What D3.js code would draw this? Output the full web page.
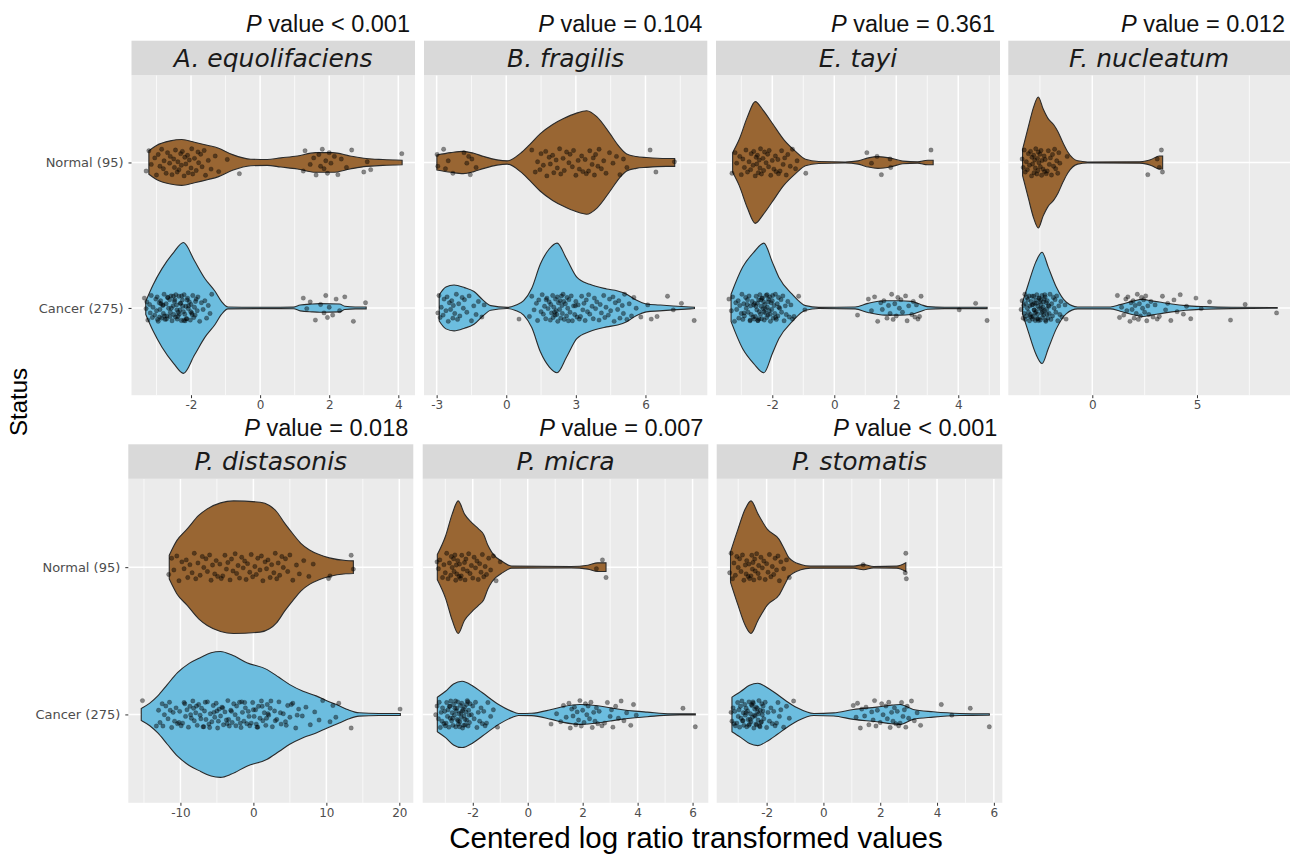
<!DOCTYPE html>
<html><head><meta charset="utf-8">
<script src="https://cdn.jsdelivr.net/npm/d3@7"></script>
<style>body{margin:0;background:#fff} svg{display:block;font-family:"Liberation Sans",Arial,Helvetica,sans-serif}</style>
</head><body>
<svg id="chart" width="1296" height="861"></svg>
<script>
// ---------------- data ----------------
const groups = ["Normal (95)", "Cancer (275)"];
const species = ["A. equolifaciens","B. fragilis","E. tayi","F. nucleatum","P. distasonis","P. micra","P. stomatis"];
const pLabels = ["< 0.001","= 0.104","= 0.361","= 0.012","= 0.018","= 0.007","< 0.001"];
const xTicks = [[-2,0,2,4],[-3,0,3,6],[-2,0,2,4],[0,5],[-10,0,10,20],[-2,0,2,4,6],[-2,0,2,4,6]];

// violin outlines: [value, relative density (1 = widest violin)]
const normalOutline = [
  [[-3.22,0.18],[-3.0,0.26],[-2.6,0.33],[-2.27,0.35],[-1.9,0.31],[-1.5,0.26],[-1.22,0.22],[-0.8,0.12],[-0.27,0.05],[0.2,0.045],[0.6,0.07],[1.08,0.1],[1.6,0.15],[2.1,0.15],[2.6,0.1],[3.07,0.06],[3.55,0.045],[4.11,0.035]],
  [[-2.99,0.115],[-2.39,0.15],[-1.85,0.17],[-1.4,0.14],[-0.96,0.09],[-0.4,0.04],[0.04,0.025],[0.61,0.14],[1.0,0.27],[1.47,0.44],[2.0,0.58],[2.47,0.67],[3.0,0.75],[3.47,0.79],[3.9,0.7],[4.47,0.44],[4.85,0.25],[5.19,0.13],[5.6,0.09],[6.04,0.075],[6.9,0.06],[7.26,0.06]],
  [[-3.28,0.15],[-3.07,0.35],[-2.8,0.7],[-2.55,0.93],[-2.3,0.8],[-2.0,0.6],[-1.63,0.35],[-1.25,0.17],[-0.93,0.05],[-0.5,0.015],[0.35,0.008],[0.77,0.025],[1.1,0.07],[1.41,0.09],[1.84,0.065],[2.21,0.02],[2.69,0.01],[3.01,0.035],[3.19,0.035]],
  [[-3.33,0.2],[-3.05,0.55],[-2.8,0.85],[-2.58,1.0],[-2.35,0.82],[-2.11,0.67],[-1.85,0.58],[-1.64,0.47],[-1.4,0.3],[-1.17,0.16],[-0.7,0.025],[-0.23,0.008],[2.26,0.01],[2.6,0.025],[2.81,0.045],[3.2,0.1],[3.36,0.1]],
  [[-11.53,0.18],[-10.5,0.4],[-9.04,0.58],[-7.5,0.78],[-6.32,0.88],[-4.5,0.97],[-2.71,1.0],[0.91,0.98],[2.2,0.93],[3.17,0.84],[4.3,0.66],[5.43,0.5],[6.5,0.36],[7.69,0.26],[9.0,0.19],[10.4,0.14],[12.67,0.1],[13.7,0.095]],
  [[-3.29,0.19],[-2.99,0.47],[-2.75,0.8],[-2.53,1.0],[-2.3,0.8],[-2.03,0.67],[-1.8,0.58],[-1.6,0.49],[-1.45,0.33],[-1.3,0.22],[-0.88,0.075],[-0.58,0.015],[1.58,0.01],[2.19,0.03],[2.55,0.065],[2.85,0.065]],
  [[-3.27,0.23],[-3.01,0.57],[-2.75,0.88],[-2.55,1.0],[-2.3,0.8],[-1.97,0.57],[-1.56,0.42],[-1.35,0.25],[-1.21,0.14],[-0.8,0.04],[-0.45,0.015],[1.06,0.015],[1.41,0.038],[1.76,0.01],[2.58,0.015],[2.9,0.065]]
];
const cancerOutline = [
  [[-3.31,0.1],[-3.1,0.35],[-2.84,0.6],[-2.5,0.85],[-2.22,1.0],[-1.9,0.72],[-1.6,0.45],[-1.3,0.25],[-1.12,0.1],[-0.93,0.015],[0.0,0.01],[0.97,0.012],[1.16,0.045],[1.5,0.06],[1.73,0.065],[2.3,0.06],[2.45,0.025],[2.75,0.015],[3.07,0.015]],
  [[-2.89,0.2],[-2.6,0.32],[-2.25,0.35],[-1.8,0.31],[-1.39,0.25],[-1.0,0.12],[-0.67,0.035],[0.04,0.008],[0.4,0.04],[0.75,0.11],[1.1,0.3],[1.47,0.67],[1.85,0.9],[2.19,0.99],[2.6,0.75],[3.04,0.47],[3.6,0.36],[4.33,0.29],[4.8,0.26],[5.19,0.21],[5.6,0.12],[6.04,0.06],[6.6,0.045],[7.19,0.03],[8.11,0.01]],
  [[-3.33,0.21],[-2.96,0.62],[-2.6,0.85],[-2.27,0.99],[-2.0,0.7],[-1.79,0.47],[-1.36,0.21],[-0.93,0.035],[-0.5,0.008],[0.67,0.015],[1.09,0.07],[1.63,0.11],[2.1,0.11],[2.48,0.1],[2.8,0.05],[3.01,0.02],[3.55,0.01],[4.93,0.01]],
  [[-3.33,0.09],[-3.05,0.37],[-2.7,0.7],[-2.4,0.85],[-2.1,0.62],[-1.72,0.32],[-1.25,0.09],[-0.7,0.015],[0.86,0.015],[1.33,0.05],[1.9,0.1],[2.42,0.13],[2.8,0.11],[3.2,0.09],[3.8,0.06],[4.45,0.035],[5.39,0.02],[6.64,0.01],[8.83,0.005]],
  [[-15.37,0.09],[-14.2,0.17],[-13.1,0.28],[-11.8,0.45],[-10.4,0.63],[-8.8,0.77],[-7.23,0.86],[-5.8,0.93],[-4.52,0.95],[-3.0,0.9],[-0.9,0.78],[1.82,0.68],[3.5,0.56],[4.98,0.45],[6.8,0.35],[8.6,0.28],[10.2,0.2],[11.76,0.13],[13.0,0.07],[14.48,0.025],[17.19,0.015],[20.14,0.015]],
  [[-3.29,0.26],[-2.99,0.35],[-2.7,0.46],[-2.39,0.5],[-2.0,0.43],[-1.66,0.33],[-1.06,0.15],[-0.6,0.05],[-0.34,0.015],[0.14,0.018],[0.86,0.075],[1.3,0.12],[1.9,0.15],[2.55,0.13],[3.0,0.1],[3.39,0.075],[3.9,0.05],[4.35,0.035],[5.2,0.01],[6.1,0.008]],
  [[-3.22,0.26],[-2.9,0.35],[-2.6,0.44],[-2.31,0.47],[-2.0,0.41],[-1.62,0.3],[-1.3,0.2],[-0.92,0.1],[-0.34,0.015],[0.36,0.023],[1.06,0.075],[1.88,0.11],[2.4,0.14],[2.7,0.15],[3.16,0.075],[3.86,0.04],[4.79,0.015],[5.84,0.01]]
];

// individual samples (centered log ratio values)
const normalPoints = [
  [-3.3,-3.22,-3.15,-3.05,-3.0,-2.95,-2.9,-2.85,-2.8,-2.78,-2.72,-2.68,-2.62,-2.6,-2.55,-2.5,-2.48,-2.45,-2.4,-2.38,-2.35,-2.3,-2.28,-2.25,-2.2,-2.18,-2.15,-2.1,-2.08,-2.05,-2.0,-1.98,-1.95,-1.9,-1.85,-1.8,-1.78,-1.72,-1.68,-1.62,-1.58,-1.5,-1.42,-1.3,-1.2,-0.95,-0.6,
   1.25,1.3,1.45,1.55,1.62,1.7,1.75,1.8,1.85,1.9,1.95,2.0,2.05,2.15,2.25,2.35,2.5,2.65,3.0,3.1,3.2,4.1],
  [-2.98,-2.95,-2.7,-2.62,-2.5,-2.3,-1.82,-1.7,-1.62,-1.55,-1.48,-1.3,
   1.1,1.25,1.35,1.45,1.5,1.6,1.7,1.75,1.85,1.9,2.0,2.05,2.15,2.2,2.3,2.35,2.45,2.5,2.6,2.7,2.75,2.85,2.9,3.0,3.1,3.15,3.25,3.3,3.4,3.45,3.55,3.6,3.7,3.75,3.8,3.85,3.95,4.0,4.1,4.2,4.3,4.45,4.6,4.75,4.9,5.05,5.2,6.2,6.45,7.25],
  [-3.3,-3.2,-3.15,-3.05,-3.0,-2.95,-2.9,-2.85,-2.8,-2.75,-2.7,-2.68,-2.62,-2.6,-2.55,-2.52,-2.5,-2.48,-2.45,-2.42,-2.4,-2.38,-2.35,-2.3,-2.28,-2.25,-2.2,-2.15,-2.12,-2.1,-2.05,-2.0,-1.95,-1.9,-1.88,-1.82,-1.8,-1.75,-1.7,-1.65,-1.6,-1.55,-1.5,-1.42,-1.35,-1.25,-1.2,-0.92,
   1.05,1.2,1.38,1.52,1.8,1.82,3.12],
  [-3.35,-3.3,-3.25,-3.2,-3.15,-3.1,-3.05,-3.0,-2.95,-2.9,-2.88,-2.85,-2.8,-2.78,-2.75,-2.72,-2.7,-2.65,-2.62,-2.6,-2.58,-2.55,-2.5,-2.48,-2.45,-2.42,-2.4,-2.35,-2.3,-2.28,-2.25,-2.2,-2.15,-2.1,-2.05,-2.0,-1.95,-1.9,-1.85,-1.8,-1.75,-1.7,-1.65,-1.6,-1.55,-1.2,
   2.65,3.1,3.2,3.3,3.35],
  [-11.6,-11.2,-10.9,-10.5,-10.2,-9.8,-9.5,-9.2,-9.0,-8.7,-8.4,-8.1,-7.9,-7.6,-7.3,-7.0,-6.8,-6.5,-6.3,-6.0,-5.8,-5.6,-5.3,-5.1,-4.9,-4.6,-4.4,-4.2,-3.9,-3.7,-3.5,-3.2,-3.0,-2.8,-2.5,-2.3,-2.1,-1.9,-1.6,-1.4,-1.2,-1.0,-0.8,-0.5,-0.3,-0.1,0.2,0.4,0.6,0.9,1.1,1.3,1.6,1.8,2.0,2.3,2.5,2.8,3.0,3.2,3.4,3.6,3.9,4.1,4.4,4.7,5.0,5.4,5.9,6.3,6.9,7.6,8.2,10.3,10.5,13.4,13.7],
  [-3.3,-3.25,-3.2,-3.1,-3.05,-3.0,-2.95,-2.9,-2.85,-2.8,-2.78,-2.75,-2.7,-2.68,-2.65,-2.62,-2.6,-2.58,-2.55,-2.5,-2.48,-2.45,-2.42,-2.4,-2.35,-2.3,-2.28,-2.25,-2.2,-2.15,-2.1,-2.05,-2.0,-1.95,-1.9,-1.85,-1.8,-1.75,-1.7,-1.65,-1.6,-1.55,-1.5,-1.42,-1.35,-1.25,-1.15,-1.0,
   2.5,2.72,2.85],
  [-3.3,-3.25,-3.2,-3.15,-3.1,-3.05,-3.0,-2.95,-2.9,-2.85,-2.8,-2.75,-2.72,-2.7,-2.65,-2.62,-2.6,-2.55,-2.52,-2.5,-2.48,-2.45,-2.42,-2.4,-2.35,-2.3,-2.28,-2.25,-2.2,-2.15,-2.1,-2.05,-2.0,-1.95,-1.9,-1.85,-1.8,-1.75,-1.7,-1.65,-1.6,-1.55,-1.5,-1.4,-1.3,-1.2,
   1.4,2.88,2.9,2.92]
];
const cancerPoints = [
  [-3.35,-3.3,-3.28,-3.25,-3.2,-3.18,-3.15,-3.12,-3.1,-3.05,-3.02,-3.0,-2.98,-2.95,-2.92,-2.9,-2.88,-2.85,-2.82,-2.8,-2.78,-2.75,-2.72,-2.7,-2.68,-2.65,-2.62,-2.6,-2.58,-2.55,-2.52,-2.5,-2.48,-2.45,-2.42,-2.4,-2.38,-2.35,-2.32,-2.3,-2.28,-2.25,-2.22,-2.2,-2.18,-2.15,-2.12,-2.1,-2.08,-2.05,-2.02,-2.0,-1.98,-1.95,-1.92,-1.9,-1.88,-1.85,-1.82,-1.8,-1.75,-1.7,-1.65,-1.6,-1.55,-1.5,-1.45,-1.4,
   -2.97,-2.87,-2.77,-2.67,-2.57,-2.47,-2.37,-2.27,-2.17,-2.07,-1.97,-1.87,-2.91,-2.81,-2.71,-2.61,-2.51,-2.41,-2.31,-2.21,-2.11,-2.01,-2.44,-2.34,-2.24,-2.14,
   1.25,1.35,1.45,1.6,1.75,1.85,1.9,1.95,2.0,2.1,2.2,2.3,2.45,2.7,3.05],
  [-2.95,-2.9,-2.85,-2.8,-2.72,-2.68,-2.6,-2.55,-2.5,-2.45,-2.4,-2.35,-2.3,-2.28,-2.22,-2.15,-2.1,-2.05,-2.0,-1.9,-1.85,-1.8,-1.7,-1.6,-1.5,-1.4,-1.3,-1.2,-1.05,-0.95,
   0.55,
   1.0,1.1,1.2,1.3,1.35,1.4,1.5,1.55,1.6,1.65,1.7,1.75,1.8,1.85,1.9,1.92,1.95,2.0,2.02,2.05,2.1,2.12,2.15,2.2,2.22,2.25,2.3,2.32,2.35,2.4,2.42,2.45,2.5,2.55,2.6,2.62,2.65,2.7,2.75,2.8,2.85,2.9,2.95,3.0,3.05,3.1,3.15,3.2,3.25,3.3,3.35,3.4,3.45,3.5,3.55,3.6,3.7,3.75,3.8,3.85,3.9,4.0,4.05,4.1,4.2,4.25,4.3,4.4,4.45,4.5,4.6,4.65,4.7,4.8,4.85,4.9,5.0,5.05,5.1,5.2,5.3,5.4,5.5,5.6,
   1.72,2.08,2.38,2.68,2.98,2.18,2.48,
   5.8,6.1,6.25,6.5,6.95,7.2,7.55,8.1],
  [-3.4,-3.32,-3.28,-3.22,-3.18,-3.15,-3.1,-3.08,-3.05,-3.0,-2.98,-2.95,-2.92,-2.9,-2.86,-2.84,-2.8,-2.78,-2.75,-2.72,-2.7,-2.68,-2.65,-2.62,-2.6,-2.58,-2.55,-2.52,-2.5,-2.48,-2.46,-2.44,-2.42,-2.4,-2.38,-2.36,-2.34,-2.32,-2.3,-2.28,-2.26,-2.24,-2.22,-2.2,-2.18,-2.16,-2.14,-2.12,-2.1,-2.08,-2.06,-2.04,-2.02,-2.0,-1.97,-1.94,-1.92,-1.9,-1.87,-1.84,-1.82,-1.8,-1.76,-1.72,-1.7,-1.66,-1.62,-1.58,-1.55,-1.5,-1.45,-1.4,-1.35,-1.3,-1.15,-0.95,
   -2.57,-2.47,-2.37,-2.27,-2.17,-2.07,-2.53,-2.43,-2.33,-2.23,-2.13,-2.71,-2.81,-2.91,-1.99,-1.89,-1.79,
   0.75,1.1,1.2,1.3,1.4,1.5,1.55,1.6,1.7,1.75,1.8,1.85,1.9,1.95,2.0,2.05,2.1,2.15,2.2,2.3,2.35,2.4,2.5,2.55,2.6,2.65,2.7,2.75,2.8,4.03,4.56,4.93],
  [-3.4,-3.35,-3.3,-3.28,-3.25,-3.22,-3.2,-3.18,-3.15,-3.12,-3.1,-3.08,-3.05,-3.02,-3.0,-2.98,-2.95,-2.92,-2.9,-2.88,-2.85,-2.82,-2.8,-2.78,-2.75,-2.72,-2.7,-2.68,-2.65,-2.62,-2.6,-2.58,-2.55,-2.52,-2.5,-2.48,-2.45,-2.42,-2.4,-2.38,-2.35,-2.32,-2.3,-2.28,-2.25,-2.22,-2.2,-2.18,-2.15,-2.12,-2.1,-2.06,-2.02,-1.98,-1.94,-1.9,-1.86,-1.82,-1.78,-1.74,-1.7,-1.65,-1.6,-1.55,-1.5,-1.45,-1.3,-1.25,
   -2.97,-2.87,-2.77,-2.67,-2.57,-2.47,-2.37,-2.27,-2.17,-2.07,-2.63,-2.53,-2.43,-2.33,-2.23,-2.83,-2.73,
   1.2,1.3,1.4,1.5,1.6,1.65,1.7,1.8,1.85,1.9,1.95,2.0,2.05,2.1,2.15,2.2,2.25,2.3,2.35,2.4,2.45,2.5,2.55,2.6,2.65,2.7,2.8,2.9,3.0,3.1,3.2,3.35,3.5,3.6,3.75,3.9,4.05,4.2,4.35,4.5,4.7,4.95,5.2,5.6,6.6,7.3,8.8],
  [-15.2,-13.3,-13.0,-12.8,-12.5,-12.2,-12.0,-11.7,-11.5,-11.2,-11.0,-10.8,-10.6,-10.4,-10.1,-9.9,-9.7,-9.5,-9.3,-9.1,-8.9,-8.7,-8.5,-8.3,-8.1,-7.9,-7.7,-7.5,-7.3,-7.1,-6.9,-6.7,-6.5,-6.3,-6.1,-5.9,-5.7,-5.5,-5.3,-5.1,-4.9,-4.7,-4.5,-4.3,-4.1,-3.9,-3.7,-3.5,-3.3,-3.1,-2.9,-2.7,-2.5,-2.3,-2.1,-1.9,-1.7,-1.5,-1.3,-1.1,-0.9,-0.7,-0.5,-0.3,-0.1,0.1,0.3,0.5,0.7,0.9,1.1,1.3,1.5,1.7,1.9,2.1,2.3,2.6,2.9,3.2,3.5,3.8,4.1,4.4,4.7,5.0,5.4,5.8,6.2,6.7,7.2,7.8,8.4,9.0,9.5,
   -12.4,-11.4,-10.2,-9.4,-8.6,-7.8,-7.2,-6.6,-6.0,-5.4,-4.8,-4.2,-3.6,-3.0,-2.4,-1.8,-1.2,-0.6,0.0,0.6,1.2,1.8,2.4,3.0,3.7,4.5,5.2,6.0,
   -8.2,-6.8,-5.0,-3.4,-1.6,0.4,2.0,
   10.5,10.9,11.3,11.7,13.4,20.1],
  [-3.35,-3.3,-3.25,-3.22,-3.18,-3.15,-3.12,-3.1,-3.05,-3.02,-3.0,-2.97,-2.95,-2.92,-2.9,-2.87,-2.85,-2.82,-2.8,-2.77,-2.75,-2.72,-2.7,-2.67,-2.65,-2.62,-2.6,-2.57,-2.55,-2.52,-2.5,-2.47,-2.45,-2.42,-2.4,-2.37,-2.35,-2.32,-2.3,-2.27,-2.25,-2.22,-2.2,-2.17,-2.15,-2.12,-2.1,-2.05,-2.0,-1.95,-1.9,-1.85,-1.8,-1.75,-1.7,-1.65,-1.6,-1.55,-1.5,-1.45,-1.35,-1.25,-1.1,
   -2.83,-2.73,-2.63,-2.53,-2.43,-2.33,-2.23,-2.13,-2.58,-2.48,-2.38,-2.28,-2.18,
   0.85,1.05,1.2,1.3,1.4,1.5,1.55,1.6,1.65,1.7,1.75,1.8,1.85,1.9,1.95,2.0,2.05,2.1,2.15,2.2,2.25,2.3,2.35,2.4,2.45,2.5,2.55,2.6,2.7,2.8,2.9,3.0,3.05,3.1,3.2,3.3,3.4,3.5,3.6,3.75,3.85,3.95,
   5.65,6.1],
  [-3.25,-3.22,-3.18,-3.15,-3.12,-3.1,-3.05,-3.02,-3.0,-2.97,-2.95,-2.92,-2.9,-2.87,-2.85,-2.82,-2.8,-2.77,-2.75,-2.72,-2.7,-2.67,-2.65,-2.62,-2.6,-2.57,-2.55,-2.52,-2.5,-2.47,-2.45,-2.42,-2.4,-2.37,-2.35,-2.32,-2.3,-2.27,-2.25,-2.22,-2.2,-2.17,-2.15,-2.12,-2.1,-2.05,-2.0,-1.95,-1.9,-1.85,-1.8,-1.75,-1.7,-1.65,-1.6,-1.55,-1.5,-1.4,-1.3,-1.2,-1.05,
   -2.83,-2.73,-2.63,-2.53,-2.43,-2.33,-2.23,-2.13,-2.58,-2.48,-2.38,-2.28,-2.18,
   1.05,1.15,1.2,1.3,1.35,1.45,1.5,1.6,1.7,1.75,1.8,1.85,1.9,2.0,2.05,2.1,2.2,2.25,2.3,2.35,2.4,2.45,2.5,2.55,2.6,2.65,2.7,2.75,2.8,2.85,2.9,2.95,3.0,3.1,3.2,3.3,3.42,
   4.15,4.52,5.17,5.84]
];

// fixed vertical jitter pattern (fraction of max jitter)
const jitter = [0.62,-0.85,0.14,-0.33,0.91,-0.58,0.27,-0.96,0.45,-0.12,0.78,-0.71,0.05,-0.44,0.88,-0.25,0.36,-0.9,0.69,-0.05,0.52,-0.64,0.2,-0.8,0.97,-0.38,0.11,-0.52,0.74,-0.18,0.4,-0.99,0.83,-0.3,0.58,-0.76,0.02,-0.6,0.31,-0.87,0.93,-0.15,0.48,-0.47,0.66,-0.22,0.81];

// ---------------- layout & style ----------------
const fills = ["#996633", "#6CBDDF"];
const rowTop = [40.7, 444.3];
const stripH = 34.5;
const plotH = [320, 324];
const lefts = [131.5, 424, 716, 1008.3, 128.3, 422.7, 716.7];
const widths = [283.5, 283.3, 284, 281.7, 285, 285.6, 285.6];
const tickFont = "DejaVu Sans, Verdana, sans-serif";

const svg = d3.select("#chart");
svg.append("rect").attr("width",1296).attr("height",861).attr("fill","#fff");

species.forEach((sp, i) => {
  const row = i < 4 ? 0 : 1;
  const L = lefts[i], W = widths[i];
  const sTop = rowTop[row];
  const top = sTop + stripH, bottom = top + plotH[row];
  const outlines = [normalOutline[i], cancerOutline[i]];
  const pts = [normalPoints[i], cancerPoints[i]];
  const allX = outlines.flat().map(d => d[0]).concat(pts.flat());
  const [mn, mx] = d3.extent(allX);
  const pad = (mx - mn) * 0.05;
  const x = d3.scaleLinear().domain([mn - pad, mx + pad]).range([L, L + W]);
  const y = d3.scalePoint().domain(groups).range([top, bottom]).padding(0.6);
  const half = y.step() * 0.45;
  const g = svg.append("g");

  // panel background
  g.append("rect").attr("x", L).attr("y", top).attr("width", W).attr("height", bottom - top).attr("fill", "#EBEBEB");
  // minor grid
  const t = xTicks[i];
  const stp = t[1] - t[0];
  const minors = d3.range(t[0] - stp / 2, t[t.length - 1] + stp, stp).filter(v => v > x.domain()[0] && v < x.domain()[1]);
  g.selectAll(".mg").data(minors).join("line")
    .attr("x1", d => x(d)).attr("x2", d => x(d)).attr("y1", top).attr("y2", bottom)
    .attr("stroke", "#fff").attr("stroke-width", 0.7);
  g.selectAll(".Mg").data(t).join("line")
    .attr("x1", d => x(d)).attr("x2", d => x(d)).attr("y1", top).attr("y2", bottom)
    .attr("stroke", "#fff").attr("stroke-width", 1.5);
  g.selectAll(".hg").data(groups).join("line")
    .attr("x1", L).attr("x2", L + W).attr("y1", d => y(d)).attr("y2", d => y(d))
    .attr("stroke", "#fff").attr("stroke-width", 1.5);

  // strip
  g.append("rect").attr("x", L).attr("y", sTop).attr("width", W).attr("height", stripH).attr("fill", "#D9D9D9");
  g.append("text").attr("x", L + W / 2).attr("y", sTop + stripH / 2 + 8.6)
    .attr("text-anchor", "middle").attr("font-size", 25).attr("font-style", "italic")
    .attr("font-family", tickFont).attr("fill", "#1a1a1a").text(sp);
  // p value
  const pt = g.append("text").attr("x", L + W - 5).attr("y", sTop - 8.5)
    .attr("text-anchor", "end").attr("font-size", 23.5).attr("fill", "#111");
  pt.append("tspan").attr("font-style", "italic").text("P");
  pt.append("tspan").text(" value " + pLabels[i]);

  // violins + points
  groups.forEach((gr, k) => {
    const cy = y(gr);
    const area = d3.area()
      .x(d => x(d[0]))
      .y0(d => cy + d[1] * half)
      .y1(d => cy - d[1] * half)
      .curve(d3.curveMonotoneX);
    g.append("path").attr("d", area(outlines[k]))
      .attr("fill", fills[k]).attr("stroke", "#2a2a2a").attr("stroke-width", 1.1);
    g.append("g").selectAll("circle").data(pts[k]).join("circle")
      .attr("cx", d => x(d))
      .attr("cy", (d, j) => cy + jitter[(j + k * 11 + i * 5) % jitter.length] * y.step() * 0.095)
      .attr("r", 2.2)
      .attr("fill", "#000").attr("fill-opacity", 0.44)
      .attr("stroke", "#000").attr("stroke-opacity", 0.35).attr("stroke-width", 0.5);
  });

  // x axis
  const xa = g.append("g").attr("transform", `translate(0,${bottom})`)
    .call(d3.axisBottom(x).tickValues(t).tickSize(3).tickPadding(2.5).tickFormat(d => String(d)));
  xa.select(".domain").remove();
  xa.selectAll("line").attr("stroke", "#333");
  xa.selectAll("text").attr("fill", "#4D4D4D").attr("font-size", 12).attr("font-family", tickFont);

  // y axis on leftmost panels
  if (i === 0 || i === 4) {
    const ya = g.append("g").attr("transform", `translate(${L},0)`)
      .call(d3.axisLeft(y).tickSize(3).tickPadding(5));
    ya.select(".domain").remove();
    ya.selectAll("line").attr("stroke", "#333");
    ya.selectAll("text").attr("fill", "#4D4D4D").attr("font-size", 13).attr("font-family", tickFont);
  }
});

// axis titles
svg.append("text").attr("x", 696).attr("y", 848).attr("text-anchor", "middle")
  .attr("font-size", 29.5).attr("fill", "#000").text("Centered log ratio transformed values");
svg.append("text").attr("transform", "translate(27,402) rotate(-90)").attr("text-anchor", "middle")
  .attr("font-size", 24).attr("fill", "#000").text("Status");
</script>
</body></html>
